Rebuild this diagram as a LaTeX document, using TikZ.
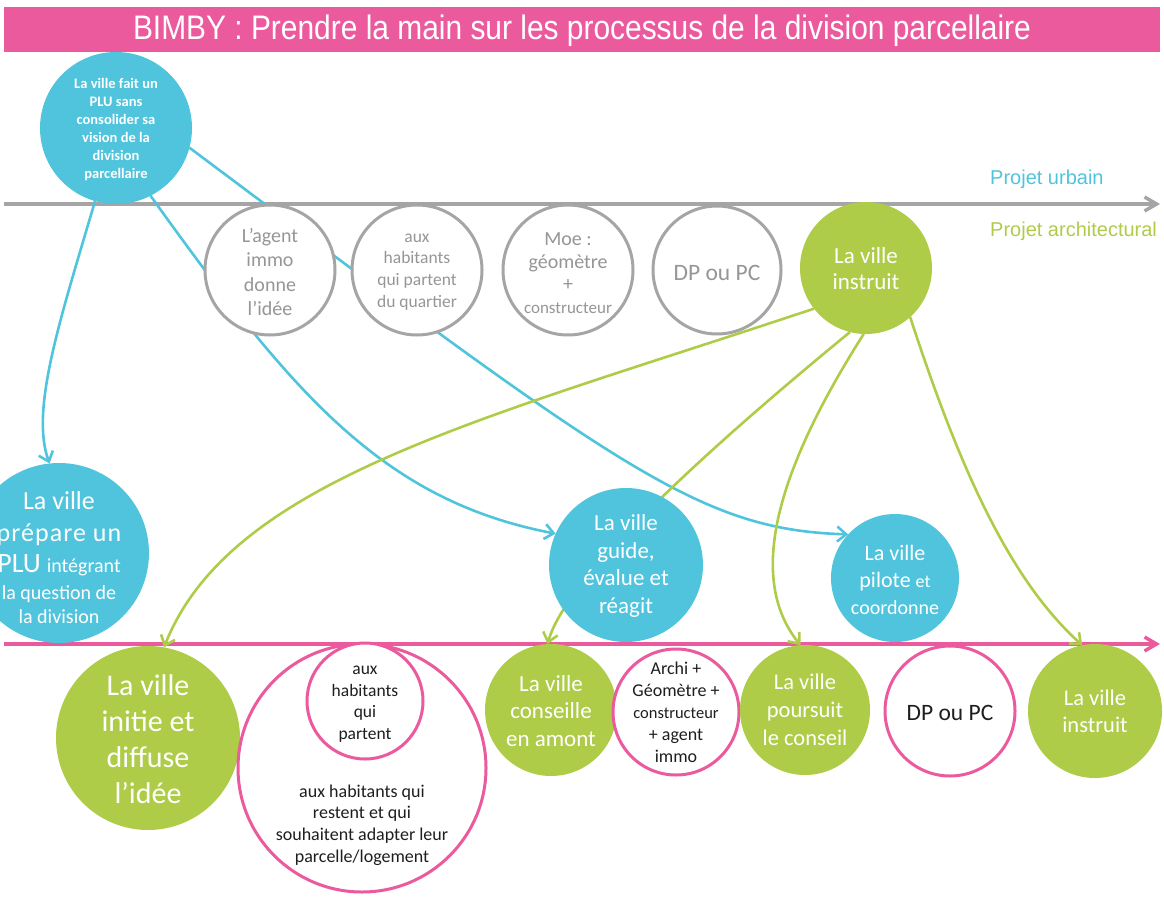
\documentclass[tikz,border=0pt]{standalone}
\usepackage{fontspec}
\setmainfont{Carlito}
\newfontfamily\arialf{Liberation Sans}
\newfontfamily\arialn[FakeStretch=0.88]{Liberation Sans}
\usetikzlibrary{arrows.meta,backgrounds}
\definecolor{cblue}{RGB}{80,196,220}
\definecolor{cgreen}{RGB}{174,204,72}
\definecolor{cpink}{RGB}{236,90,158}
\definecolor{cgray}{RGB}{165,165,165}
\definecolor{cgraytxt}{RGB}{150,150,150}
\definecolor{ctxt}{RGB}{30,30,30}
\newcommand\fsz[2]{\fontsize{#1}{#2}\selectfont}
\tikzset{
  bcirc/.style={circle, fill=cblue, draw=none, inner sep=0pt, outer sep=0pt},
  gcirc/.style={circle, fill=cgreen, draw=none, inner sep=0pt, outer sep=0pt},
  ocirc/.style={circle, fill=white, draw=cgray, line width=3pt, inner sep=0pt, outer sep=0pt},
  pcirc/.style={circle, fill=white, draw=cpink, line width=3pt, inner sep=0pt, outer sep=0pt},
  wtxt/.style={text=white, align=center, inner sep=0pt},
  gtxt/.style={text=cgraytxt, align=center, inner sep=0pt},
  ktxt/.style={text=ctxt, align=center, inner sep=0pt},
  conn/.style={line width=2.6pt, -{Straight Barb[length=9pt,width=15pt]}},
  axisline/.style={line width=3.5pt, -{Straight Barb[length=12pt,width=14pt]}},
}
\begin{document}
\begin{tikzpicture}[x=1pt,y=-1pt]
\useasboundingbox (0,0) rectangle (1164,899);
% title
\node[fill=cpink, minimum width=1156pt, minimum height=45pt, inner sep=0pt, anchor=north west] (title) at (4,7) {};
\node[text=white, font=\arialn\fsz{34}{40}] (title-t) at (582,31) {BIMBY : Prendre la main sur les processus de la division parcellaire};
% axis labels
\node[anchor=base west, inner sep=0pt, text=cblue, font=\arialf\fsz{20}{24}] (pu) at (990,184) {Projet urbain};
\node[anchor=base west, inner sep=0pt, text=cgreen, font=\arialf\fsz{20}{24}] (pa) at (990,236) {Projet architectural};
% axis coordinates
\coordinate (ga-s) at (4,204);
\coordinate (ga-e) at (1160,204);
\coordinate (pa-s) at (4,644);
\coordinate (pa-e) at (1160,644);
% top circles
\node[bcirc, minimum size=152pt] (plu0) at (116,128) {};
\node[wtxt, font=\bfseries\fsz{14.5}{18}] (plu0-t) at (116,130) {La ville fait un\\PLU sans\\consolider sa\\vision de la\\division\\parcellaire};
\node[ocirc, minimum size=130pt] (ag) at (270,270) {};
\node[gtxt, font=\fsz{20}{24.3}] (ag-t) at (270,272) {L’agent\\immo\\donne\\l’idée};
\node[ocirc, minimum size=130pt] (hab) at (417,270) {};
\node[gtxt, font=\fsz{17.5}{21.7}] (hab-t) at (417,272) {aux\\habitants\\qui partent\\du quartier};
\node[ocirc, minimum size=130pt] (moe) at (568,270) {};
\node[gtxt, font=\fsz{20}{22.5}] (moe-t) at (568,273) {Moe :\\géomètre\\+\\{\fsz{17}{22.5}constructeur}};
\node[ocirc, minimum size=128pt] (dp1) at (717,270) {};
\node[gtxt, font=\fsz{23.5}{28}] (dp1-t) at (717,273) {DP ou PC};
\node[gcirc, minimum size=132pt] (ins1) at (866,268) {};
\node[wtxt, font=\fsz{23}{26}] (ins1-t) at (866,269) {La ville\\instruit};
% middle blue circles
\node[bcirc, minimum size=180pt] (prep) at (59,553) {};
\node[wtxt, font=\fsz{26}{31.5}] (prep-t) at (59,558) {La ville\\{\addfontfeatures{LetterSpace=4}prépare un}\\{\fsz{28}{28}PLU} {\fsz{20}{24}intégrant}\\[-5pt]{\fsz{20}{24}la question de}\\[-7pt]{\fsz{20}{24}la division}};
\node[bcirc, minimum size=154pt] (guide) at (626,565) {};
\node[wtxt, font=\fsz{23}{27.7}] (guide-t) at (626,566) {La ville\\guide,\\évalue et\\réagit};
\node[bcirc, minimum size=128pt] (pil) at (895,578) {};
\node[wtxt, font=\fsz{22}{27}] (pil-t) at (895,580) {La ville\\pilote {\fsz{18}{27}et}\\{\fsz{20}{26}coordonne}};
% bottom row
\node[gcirc, minimum size=184pt] (init) at (148,738) {};
\node[wtxt, font=\fsz{30}{36}] (init-t) at (148,739) {La ville\\initie et\\diffuse\\l’idée};
\node[pcirc, minimum size=248pt] (big) at (362,768) {};
\node[ktxt, font=\fsz{18}{21.7}] (big-t) at (362,825) {aux habitants qui\\restent et qui\\souhaitent adapter leur\\parcelle/logement};
\node[pcirc, minimum size=116pt] (small) at (365,701) {};
\node[ktxt, font=\fsz{17.5}{21.7}] (small-t) at (365,704) {aux\\habitants\\qui\\partent};
\node[gcirc, minimum size=132pt] (cons) at (551,710) {};
\node[wtxt, font=\fsz{23}{27.5}] (cons-t) at (551,711) {La ville\\conseille\\en amont};
\node[pcirc, minimum size=126pt] (archi) at (676,712) {};
\node[ktxt, font=\fsz{18}{22}] (archi-t) at (676,712) {Archi +\\Géomètre +\\{\fsz{16.5}{22}constructeur}\\+ agent\\immo};
\node[gcirc, minimum size=130pt] (pours) at (805,710) {};
\node[wtxt, font=\fsz{22.5}{28}] (pours-t) at (805,710) {La ville\\poursuit\\le conseil};
\node[pcirc, minimum size=130pt] (dp2) at (950,711) {};
\node[ktxt, font=\fsz{23.5}{28}] (dp2-t) at (950,713) {DP ou PC};
\node[gcirc, minimum size=134pt] (ins2) at (1095,711) {};
\node[wtxt, font=\fsz{22.5}{27}] (ins2-t) at (1095,711) {La ville\\instruit};
% background: axes and connectors
\begin{scope}[on background layer]
\draw[axisline, cgray] (ga-s) -- (ga-e);
\draw[axisline, cpink] (pa-s) -- (pa-e);
\draw[conn, cblue] (plu0.254) .. controls (60,320) and (30,410) .. (prep.96);
\draw[conn, cblue] (plu0.297) .. controls (290,390) and (380,500) .. (guide.156);
\draw[conn, cblue] (plu0.345) .. controls (620,470) and (700,530) .. (pil.137);
\draw[conn, cgreen] (ins1.218) .. controls (480,420) and (230,480) .. (init.80);
\draw[conn, cgreen] (ins1.256) .. controls (700,455) and (565,580) .. (cons.93);
\draw[conn, cgreen] (ins1.268) .. controls (790,450) and (740,570) .. (pours.94);
\draw[conn, cgreen] (ins1.312) .. controls (960,470) and (1010,580) .. (ins2.101);
\end{scope}
\end{tikzpicture}
\end{document}
